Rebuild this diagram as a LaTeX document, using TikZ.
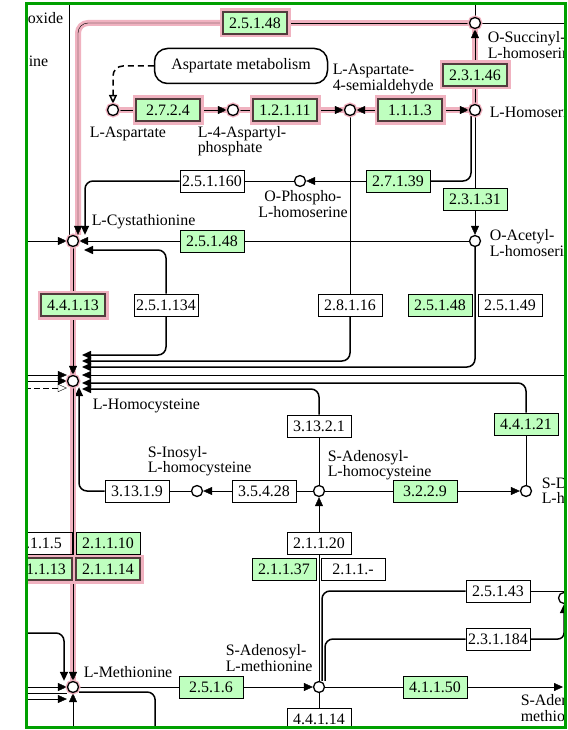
\documentclass[tikz,border=0pt]{standalone}
\usepackage{fontspec}
\setmainfont{Liberation Serif}
\usetikzlibrary{arrows.meta}
\definecolor{ecgreen}{RGB}{191,255,191}
\definecolor{hlpink}{RGB}{240,178,192}
\definecolor{hldark}{RGB}{80,60,60}
\definecolor{mapgreen}{RGB}{0,160,0}
\pgfdeclarelayer{bg}
\pgfdeclarelayer{fg}
\pgfsetlayers{bg,main,fg}

\begin{document}
\begin{tikzpicture}[x=1bp, y=-1bp, >={Triangle[length=9bp,width=8bp]},
  font=\fontsize{16}{14.5}\selectfont, line width=1.5bp,
  ec/.style={draw, line width=1bp, minimum width=64bp, minimum height=22bp, inner sep=0pt},
  ecg/.style={ec, fill=ecgreen},
  hlec/.style={ecg, draw=hldark, line width=1.6bp, preaction={draw=hlpink, line width=7bp}},
  cpd/.style={circle, draw, fill=white, minimum size=11bp, inner sep=0pt, line width=1.3bp},
  hlcpd/.style={cpd, preaction={draw=hlpink, line width=4bp}},
  lbl/.style={align=left, inner sep=0pt},
  rnd/.style={rounded corners=8bp, line width=1.5bp},
  hl/.style={preaction={draw=hlpink, line width=6bp, -}}]
\useasboundingbox (0,0) rectangle (568,730);

\node[hlcpd] (osuc) at (475,23) {};
\node[hlcpd] (asp) at (113,110) {};
\node[hlcpd] (aspp) at (233,110) {};
\node[hlcpd] (asa) at (350,110) {};
\node[hlcpd] (hser) at (475,110) {};
\node[cpd] (ophos) at (300,181) {};
\node[cpd] (oacet) at (475,241) {};
\node[hlcpd] (cysta) at (73,241) {};
\node[hlcpd] (hcys) at (73,381) {};
\node[cpd] (sinh) at (197,491) {};
\node[cpd] (sah) at (319,491) {};
\node[cpd] (srh) at (526,491) {};
\node[hlcpd] (met) at (73,687) {};
\node[cpd] (sam) at (319,687) {};
\node[cpd] (mta) at (564,598) {};

\node[draw, rounded corners=13bp, minimum width=173bp, minimum height=35bp] (aspmet) at (241,66) {Aspartate metabolism};

\node[hlec] (e25148a) at (255,23) {2.5.1.48};
\node[hlec] (e23146) at (475,75) {2.3.1.46};
\node[hlec] (e2724) at (168,110) {2.7.2.4};
\node[hlec] (e12111) at (285,110) {1.2.1.11};
\node[hlec] (e1113) at (410,110) {1.1.1.3};
\node[ec] (e251160) at (212,181) {2.5.1.160};
\node[ecg] (e27139) at (398,181) {2.7.1.39};
\node[ecg] (e23131) at (475,199) {2.3.1.31};
\node[ecg] (e25148b) at (212,241) {2.5.1.48};
\node[hlec] (e44113) at (73,305) {4.4.1.13};
\node[ec] (e251134) at (166,305) {2.5.1.134};
\node[ec] (e28116) at (350,305) {2.8.1.16};
\node[ecg] (e25148c) at (440,305) {2.5.1.48};
\node[ec] (e25149) at (510,305) {2.5.1.49};
\node[ec] (e31321) at (319,426) {3.13.2.1};
\node[ecg] (e44121) at (526,424) {4.4.1.21};
\node[ec] (e313019) at (137,491) {3.13.1.9};
\node[ec] (e35428) at (264,491) {3.5.4.28};
\node[ecg] (e3229) at (425,491) {3.2.2.9};
\node[ec] (e2115) at (40,543) {2.1.1.5};
\node[ecg] (e21110) at (108,543) {2.1.1.10};
\node[hlec] (e21113) at (40,569) {2.1.1.13};
\node[hlec] (e21114) at (108,569) {2.1.1.14};
\node[ec] (e21120) at (319,543) {2.1.1.20};
\node[ecg] (e21137) at (284,569) {2.1.1.37};
\node[ec] (e211x) at (353,569) {2.1.1.-};
\node[ec] (e25143) at (498,591) {2.5.1.43};
\node[ec] (e231184) at (498,639) {2.3.1.184};
\node[ecg] (e2516) at (211,687) {2.5.1.6};
\node[ecg] (e41150) at (435,687) {4.1.1.50};
\node[ec] (e44114) at (319,719) {4.4.1.14};

\node[lbl, anchor=west] at (27,18) {oxide};
\node[lbl, anchor=west] at (28,61) {ine};
\node[lbl, anchor=west] at (487,45) {O-Succinyl-\\L-homoserine};
\node[lbl] at (128,134) {L-Aspartate};
\node[lbl, anchor=west] at (197,141) {L-4-Aspartyl-\\phosphate};
\node[lbl, anchor=west] at (332,79) {L-Aspartate-\\4-semialdehyde};
\node[lbl, anchor=west] at (489,112) {L-Homoserine};
\node[lbl, align=center] at (303,204) {O-Phospho-\\L-homoserine};
\node[lbl, anchor=west] at (489,243) {O-Acetyl-\\L-homoserine};
\node[lbl, anchor=west] at (91,222) {L-Cystathionine};
\node[lbl, anchor=west] at (92,406) {L-Homocysteine};
\node[lbl, anchor=west] at (147,461) {S-Inosyl-\\L-homocysteine};
\node[lbl, anchor=west] at (327,465) {S-Adenosyl-\\L-homocysteine};
\node[lbl, anchor=west] at (541,492) {S-D-Ribosyl-\\L-homocysteine};
\node[lbl, anchor=west] at (83,672) {L-Methionine};
\node[lbl, anchor=west] at (225,658) {S-Adenosyl-\\L-methionine};
\node[lbl, anchor=west] at (520,708) {S-Adenosyl-\\methioninamine};

\coordinate (cin) at (84,250);
\coordinate (hin1) at (82,355);
\coordinate (hin2) at (82,361);
\coordinate (hin3) at (82,367);
\coordinate (hin4) at (82,375);
\coordinate (hin5) at (82,383);
\coordinate (hin6) at (82,389);

\begin{pgfonlayer}{bg}
\draw[hl] (osuc) -- (e25148a);
\draw[hl, ->, rounded corners=10bp] (e25148a) -| ([xshift=5bp]cysta.north);
\draw ([xshift=-4bp]cysta.north) -- ++(0,-240);
\draw (osuc) -- ++(0,-30);
\draw (osuc) -- ++(100,0);
\draw[hl] (hser) -- (e23146);
\draw[hl, ->] (e23146) -- (osuc);
\draw[rnd, rounded corners=10bp, dash pattern=on 6bp off 4bp, -{Triangle[open,length=9bp,width=8bp]}] (aspmet) -| (asp);
\draw[hl] (asp) -- (e2724);
\draw[hl, ->] (e2724) -- (aspp);
\draw[hl] (aspp) -- (e12111);
\draw[hl, ->] (e12111) -- (asa);
\draw[hl, ->] (e1113) -- (asa);
\draw[hl, ->] (e1113) -- (hser);
\draw (hser) -- (e23131);
\draw[->] (e23131) -- (oacet);
\draw[rnd] ([xshift=-4bp]hser.south) |- (e27139);
\draw[->] (e27139) -- (ophos);
\draw (ophos) -- (e251160);
\draw[rnd, ->] (e251160) -| ([xshift=12bp]cysta.north);
\draw (oacet) -- (e25148b);
\draw[->] (e25148b) -- (cysta);
\draw[<-] (cysta) -- ++(-50,0);
\draw[rnd, ->] (e251134) |- (cin);
\draw[rnd, ->] (e251134) |- (hin1);
\draw (asa) -- (e28116);
\draw[rnd, ->] (e28116) |- (hin2);
\draw[rnd, ->] (oacet) |- (hin3);
\draw[<-] (hin4) -- ++(500,0);
\draw (srh) -- (e44121);
\draw[rnd, ->] (e44121) |- (hin5);
\draw (sah) -- (e31321);
\draw[rnd, ->] (e31321) |- (hin6);
\draw[hl] (cysta) -- (e44113);
\draw[hl, ->] (e44113) -- (hcys);
\draw[<-] ([yshift=6bp]hcys.west) -- ++(-45,0);
\draw[<-] (hcys.west) -- ++(-45,0);
\draw[dash pattern=on 6bp off 3bp, {Triangle[open,length=9bp,width=8bp]}-] ([yshift=-7bp]hcys.west) -- ++(-45,0);
\draw (sah) -- (e35428);
\draw[->] (e35428) -- (sinh);
\draw (sinh) -- (e313019);
\draw[rnd, ->] (e313019) -| ([xshift=6bp]hcys.south);
\draw (sah) -- (e3229);
\draw[->] (e3229) -- (srh);
\draw (sam) -- (e21120);
\draw[->] (e21120) -- (sah);
\draw[hl, ->] (hcys) -- (met);
\draw[rnd, ->] ([shift={(-50,-54)}]met.west) -| ([xshift=-9bp]met.north);
\draw[<-] (met.west) -- ++(-45,0);
\draw ([yshift=-6bp]met.west) -- ++(-45,0);
\draw[<-] ([yshift=-12bp]met.west) -- ++(-45,0);
\draw[<-] (met.south) -- ++(0,45);
\draw[rnd] ([yshift=-5bp]met.east) -| ++(76,45);
\draw (met) -- (e2516);
\draw[->] (e2516) -- (sam);
\draw (sam) -- (e41150);
\draw[->] (e41150) -- ++(128,0);
\draw (sam) -- (e44114);
\draw[rnd] ([xshift=3bp]sam.north) |- (e25143);
\draw (e25143) -- ++(80,0);
\draw[rnd] ([xshift=6bp]sam.north) |- (e231184);
\draw[rnd, ->, rounded corners=6bp] (e231184) -| (mta);
\end{pgfonlayer}

\begin{pgfonlayer}{fg}
\fill[white, even odd rule] (-1,-1) rectangle (569,731) (26.5,3.5) rectangle (565.5,727.5);
\draw[mapgreen, line width=3bp] (26.5,3.5) rectangle (565.5,727.5);
\end{pgfonlayer}
\end{tikzpicture}
\end{document}
